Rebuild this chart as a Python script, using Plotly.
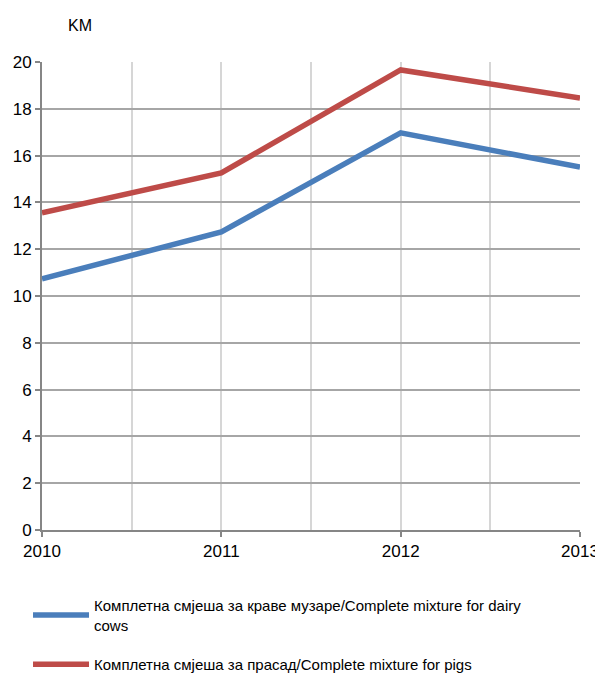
import plotly.graph_objects as go

years = [2010, 2011, 2012, 2013]
dairy_cows = [10.73, 12.74, 16.97, 15.51]
pigs = [13.55, 15.26, 19.66, 18.46]

name_cows = "Комплетна смјеша за краве музаре/Complete mixture for dairy<br>cows"
name_pigs = "Комплетна смјеша за прасад/Complete mixture for pigs"

font_family = "Liberation Sans, Arial, sans-serif"

fig = go.Figure()
fig.add_trace(go.Scatter(x=years, y=dairy_cows, mode="lines", name=name_cows,
                         legendgroup="cows",
                         line=dict(color="#4a7ebb", width=5.5)))
fig.add_trace(go.Scatter(x=years, y=pigs, mode="lines", name=name_pigs,
                         legendgroup="pigs",
                         line=dict(color="#be4b48", width=5.5)))

# page body has an 8px margin all round, so the figure is made smaller
fig.update_layout(
    width=595, height=666,
    margin=dict(l=34, r=23, t=54, b=144),
    plot_bgcolor="white", paper_bgcolor="white",
    font=dict(family=font_family, size=17, color="black"),
    showlegend=True,
    legend=dict(orientation="v", x=-0.026, y=0.1276, xanchor="left", yanchor="top",
                yref="container",
                font=dict(size=15), tracegroupgap=17, itemwidth=56),
    annotations=[dict(text="KM", xref="paper", yref="paper", x=0.07, y=1.055,
                      xanchor="center", yanchor="bottom", showarrow=False,
                      font=dict(size=16))],
)

fig.update_xaxes(
    range=[2010, 2013], dtick=1, tickformat="d",
    showgrid=True, gridcolor="#d6d6d6", gridwidth=1.5,
    minor=dict(dtick=0.5, showgrid=True, gridcolor="#d6d6d6", gridwidth=1.5),
    showline=True, linecolor="#868686", linewidth=2,
    ticks="outside", ticklen=5, tickcolor="#868686", tickwidth=2,
    zeroline=False, automargin=False, ticklabeloverflow="allow",
)
fig.update_yaxes(
    range=[0, 20], dtick=2,
    showgrid=True, gridcolor="#a6a6a6", gridwidth=1.5,
    showline=True, linecolor="#868686", linewidth=2,
    ticks="outside", ticklen=5, tickcolor="#868686", tickwidth=2,
    zeroline=False, automargin=False, ticklabeloverflow="allow",
)

fig.write_html("out.html")
